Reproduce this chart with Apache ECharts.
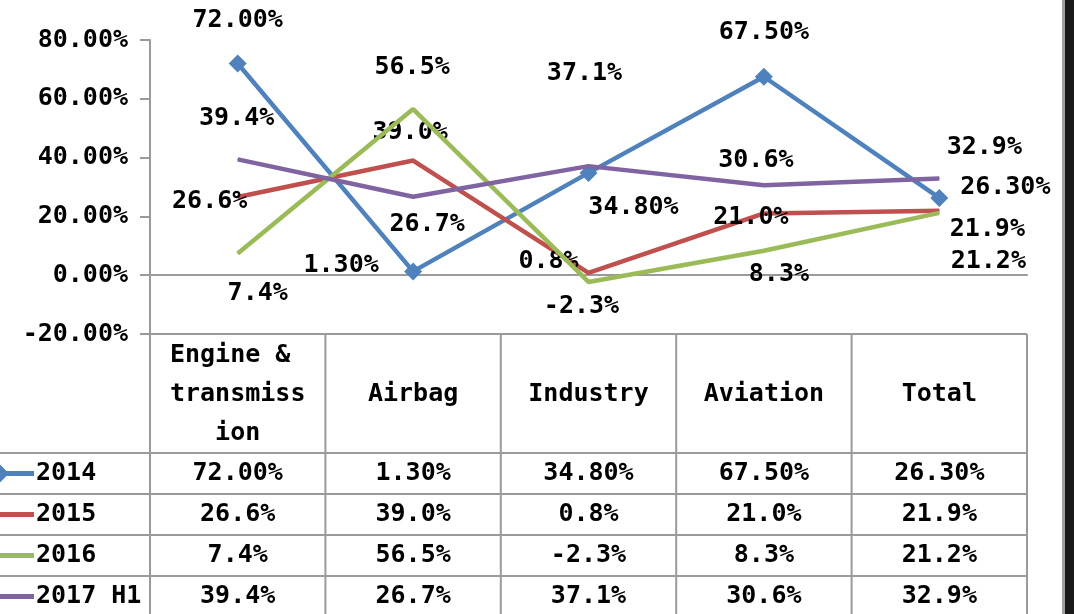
<!DOCTYPE html>
<html>
<head>
<meta charset="utf-8">
<script src="https://cdn.jsdelivr.net/npm/echarts@6/dist/echarts.min.js"></script>
<style>
  html, body { margin: 0; padding: 0; background: #fff; }
  #chart { width: 1074px; height: 614px; }
</style>
</head>
<body>
<div id="chart"></div>
<script>
// data
const categories = ['Engine & transmission', 'Airbag', 'Industry', 'Aviation', 'Total']
const seriesNames = ['2014', '2015', '2016', '2017 H1']
const growth2014 = [72.0, 1.3, 34.8, 67.5, 26.3]
const growth2015 = [26.6, 39.0, 0.8, 21.0, 21.9]
const growth2016 = [7.4, 56.5, -2.3, 8.3, 21.2]
const growth2017H1 = [39.4, 26.7, 37.1, 30.6, 32.9]
const decimals = [2, 1, 1, 1]

const allSeries = [growth2014, growth2015, growth2016, growth2017H1]
const colors = ['#4F81BD', '#C0504D', '#9BBB59', '#8064A2']
const font = '"DejaVu Sans Mono", monospace'
const fontSize = 25
const fontWeight = 'bold'
const gridColor = '#9a9a9a'

// where each data label sits, relative to its point (Excel manual placement)
const labelOffsets = [
  [[0, -43], [-72, -6], [45, 35], [0, -44], [66, -10]],
  [[-28, 5], [-3, -28], [-40, -11], [-13, 4], [48, 19]],
  [[20, 40], [-1, -42], [-7, 25], [15, 24], [49, 49]],
  [[-1, -41], [14, 28], [-4, -93], [-8, -25], [45, -31]]
]

const fmt = (v, d) => v.toFixed(d) + '%'
const cssFont = fontWeight + ' ' + fontSize + 'px ' + font

const chart = echarts.init(document.getElementById('chart'), null, { renderer: 'canvas' })

const series = allSeries.map((values, s) => ({
  name: seriesNames[s],
  type: 'line',
  data: values.map((v, i) => ({
    value: v,
    label: { offset: labelOffsets[s][i] }
  })),
  symbol: s === 0 ? 'diamond' : 'circle',
  symbolSize: s === 0 ? 18 : 1,
  showSymbol: true,
  lineStyle: { width: 4.5, color: colors[s] },
  itemStyle: { color: colors[s] },
  label: {
    show: true,
    position: 'inside',
    color: '#000',
    fontFamily: font,
    fontSize: fontSize,
    fontWeight: fontWeight,
    formatter: p => fmt(p.value, decimals[s])
  },
  emphasis: { disabled: true },
  z: 2 + s
}))

const option = {
  animation: false,
  backgroundColor: '#fff',
  grid: { left: 150, right: 47, top: 40, bottom: 280 },
  xAxis: {
    type: 'category',
    data: categories,
    boundaryGap: true,
    axisLine: { onZero: true, lineStyle: { color: gridColor, width: 2 } },
    axisTick: { show: false },
    axisLabel: { show: false },
    splitLine: { show: false }
  },
  yAxis: {
    type: 'value',
    min: -20,
    max: 80,
    interval: 20,
    axisLine: { show: true, lineStyle: { color: gridColor, width: 2 } },
    axisTick: { show: true, length: 10, lineStyle: { color: gridColor, width: 2 } },
    axisLabel: {
      margin: 22,
      color: '#000',
      fontFamily: font,
      fontSize: fontSize,
      fontWeight: fontWeight,
      formatter: v => fmt(v, 2)
    },
    splitLine: { show: false }
  },
  series: series
}

chart.setOption(option)

// data table under the plot, laid out from the axis positions
function buildTable () {
  const xs = categories.map((c, i) => chart.convertToPixel({ xAxisIndex: 0 }, i))
  const colW = xs[1] - xs[0]
  const left = xs[0] - colW / 2
  const right = xs[xs.length - 1] + colW / 2
  const top = chart.convertToPixel({ yAxisIndex: 0 }, -20)
  const rowLines = [453, 494, 535, 576, 617]
  const els = []
  const line = (x1, y1, x2, y2) => ({
    type: 'line',
    shape: { x1, y1, x2, y2 },
    style: { stroke: gridColor, lineWidth: 2 },
    silent: true
  })

  for (let k = 0; k <= categories.length; k++) {
    els.push(line(left + k * colW, top, left + k * colW, 614))
  }
  els.push(line(left, top, right, top))
  rowLines.slice(0, 4).forEach(y => els.push(line(0, y, right, y)))

  // header cells
  categories.forEach((c, i) => {
    els.push({
      type: 'text',
      x: xs[i],
      y: (top + rowLines[0]) / 2 + 1,
      style: {
        text: c,
        width: 140,
        overflow: 'break',
        lineHeight: 39,
        align: 'center',
        verticalAlign: 'middle',
        fill: '#000',
        font: cssFont
      },
      silent: true
    })
  })

  // value rows with legend keys
  allSeries.forEach((values, s) => {
    const yc = (rowLines[s] + rowLines[s + 1]) / 2
    els.push({
      type: 'line',
      shape: { x1: 0, y1: yc, x2: 34, y2: yc },
      style: { stroke: colors[s], lineWidth: 5 },
      silent: true
    })
    if (s === 0) {
      els.push({
        type: 'polygon',
        shape: { points: [[-9, yc], [0, yc - 9], [9, yc], [0, yc + 9]] },
        style: { fill: colors[s] },
        silent: true
      })
    }
    els.push({
      type: 'text',
      x: 36,
      y: yc,
      style: {
        text: seriesNames[s],
        align: 'left',
        verticalAlign: 'middle',
        fill: '#000',
        font: cssFont
      },
      silent: true
    })
    values.forEach((v, i) => {
      els.push({
        type: 'text',
        x: xs[i],
        y: yc,
        style: {
          text: fmt(v, decimals[s]),
          align: 'center',
          verticalAlign: 'middle',
          fill: '#000',
          font: cssFont
        },
        silent: true
      })
    })
  })

  // window edge on the right of the screenshot
  els.push({ type: 'rect', shape: { x: 1062, y: 0, width: 3, height: 614 }, style: { fill: '#a0a0a0' }, silent: true })
  els.push({ type: 'rect', shape: { x: 1065, y: 0, width: 9, height: 614 }, style: { fill: '#1a1a1a' }, silent: true })

  chart.setOption({ graphic: { elements: els } })
}

buildTable()
</script>
</body>
</html>
